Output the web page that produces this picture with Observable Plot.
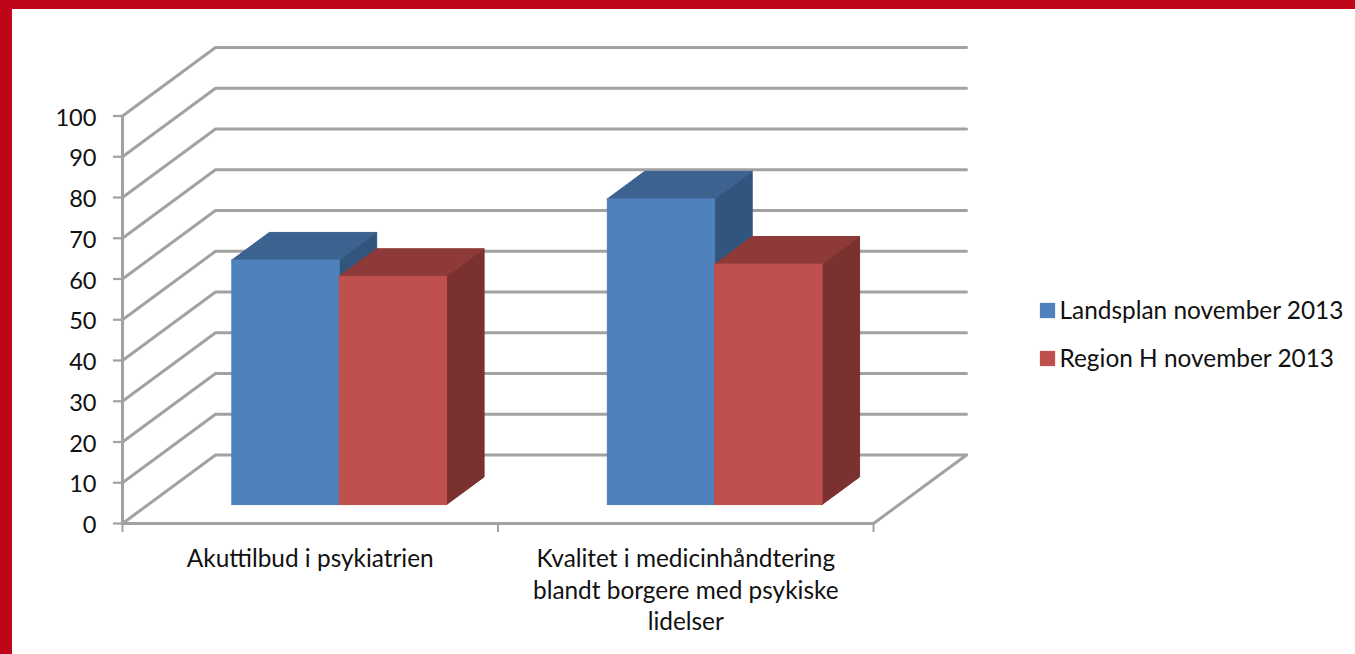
<!DOCTYPE html>
<html>
<head>
<meta charset="utf-8">
<script src="https://cdn.jsdelivr.net/npm/d3@7"></script>
<script src="https://cdn.jsdelivr.net/npm/@observablehq/plot@0.6"></script>
<style>
  html, body { margin: 0; padding: 0; background: #fff; overflow: hidden; }
  #wrap { position: relative; width: 1355px; height: 654px; }
  #wrap svg { display: block; max-width: none; }
  .band { position: absolute; background: #bf0517; }
</style>
</head>
<body>
<div id="wrap">
  <div class="band" style="left:0;top:0;width:1355px;height:9px"></div>
  <div class="band" style="left:0;top:0;width:12px;height:654px"></div>
</div>
<script>
const categories = ["Akuttilbud i psykiatrien", "Kvalitet i medicinhåndtering\nblandt borgere med psykiske\nlidelser"];
const seriesNames = ["Landsplan november 2013", "Region H november 2013"];
const landsplan = [60, 75];
const regionH = [56, 59];
const yTicks = [0, 10, 20, 30, 40, 50, 60, 70, 80, 90, 100];

const frontColors = ["#4f81bd", "#c0504d"];
const topColors = ["#3c6290", "#8d3a38"];
const sideColors = ["#32557e", "#7b312f"];

// Oblique projection, expressed in data units
const depthX = 0.2477, depthY = 16.8;
const barStart = 0.2225, barWidth = 0.286;
const depthFront = 0.277, depthBack = 0.68;
const proj = (x, v, d) => ({x: x + d * depthX, y: v + d * depthY});

const gridRows = [];
yTicks.forEach(v => {
  [[0, 0], [0, 1], [2, 1]].forEach(([x, d]) => gridRows.push({id: "g" + v, ...proj(x, v, d)}));
});
[[0, 0], [2, 0], [2, 1]].forEach(([x, d]) => gridRows.push({id: "floor", ...proj(x, 0, d)}));

const faces = [];
function face(id, color, pts) {
  [...pts, pts[0]].forEach(p => faces.push({id, color, ...proj(...p)}));
}
[landsplan, regionH].forEach((vals, s) => {
  vals.forEach((v, c) => {
    const x0 = c + barStart + s * barWidth, x1 = x0 + barWidth;
    const f = depthFront, b = depthBack;
    const key = `${s}-${c}`;
    face("side" + key, sideColors[s], [[x1, 0, f], [x1, 0, b], [x1, v, b], [x1, v, f]]);
    face("top" + key, topColors[s], [[x0, v, f], [x1, v, f], [x1, v, b], [x0, v, b]]);
    face("front" + key, frontColors[s], [[x0, 0, f], [x1, 0, f], [x1, v, f], [x0, v, f]]);
  });
});
// Draw whole series in order: blue bars first, then red
const order = ["0-0","0-1","1-0","1-1"];
const faceOrder = [];
order.forEach(k => ["side","top","front"].forEach(n => faceOrder.push(n + k)));
const facesSorted = faceOrder.flatMap(id => faces.filter(r => r.id === id));

const font = "Lato, 'Noto Sans', sans-serif";
const fs = 24.4;
const mLeft = 122, mTop = 115.5;

const legendMarks = seriesNames.flatMap((name, i) => [
  Plot.dot([name], {frameAnchor: "top-left", dx: 1047 - mLeft, dy: 310 - mTop + i * 48, symbol: "square", r: 8.6, fill: frontColors[i], stroke: "none"}),
  Plot.text([name], {frameAnchor: "top-left", dx: 1059 - mLeft, dy: 311 - mTop + i * 48, text: d => d, textAnchor: "start", lineAnchor: "middle", fontSize: fs, fill: "#111"})
]);

const chart = Plot.plot({
  width: 1355,
  height: 654,
  marginLeft: mLeft,
  marginRight: 482,
  marginTop: mTop,
  marginBottom: 131,
  style: {fontFamily: font, fontSize: fs + "px", background: "transparent", color: "#111", overflow: "visible"},
  x: {domain: [0, 2]},
  y: {domain: [0, 100]},
  color: {type: "identity"},
  marks: [
    Plot.line(gridRows, {x: "x", y: "y", z: "id", stroke: "#a2a2a2", strokeWidth: 3, strokeLinejoin: "miter"}),
    Plot.ruleX([0], {y1: 0, y2: 100, stroke: "#a2a2a2", strokeWidth: 3}),
    Plot.axisY({ticks: yTicks, tickSize: 9, text: null, stroke: "#a2a2a2", strokeWidth: 2.2, strokeOpacity: 1, label: null}),
    Plot.axisY({ticks: yTicks, tickSize: 0, tickPadding: 26, dy: 2, fontSize: 23.6, fill: "#111", label: null, tickFormat: d => String(d)}),
    Plot.axisX({ticks: [0, 1, 2], tickSize: 9, tickFormat: () => "", stroke: "#a2a2a2", strokeWidth: 2, strokeOpacity: 1, label: null}),
    Plot.line(facesSorted, {x: "x", y: "y", z: "id", fill: "color", stroke: "color", strokeWidth: 1}),
    Plot.text(categories, {x: (d, i) => i + 0.5, y: () => 0, text: d => d, dy: 21, lineAnchor: "top", textAnchor: "middle", lineHeight: 1.3, fontSize: fs, fill: "#111"}),
    ...legendMarks
  ]
});
document.getElementById("wrap").appendChild(chart);
</script>
</body>
</html>
